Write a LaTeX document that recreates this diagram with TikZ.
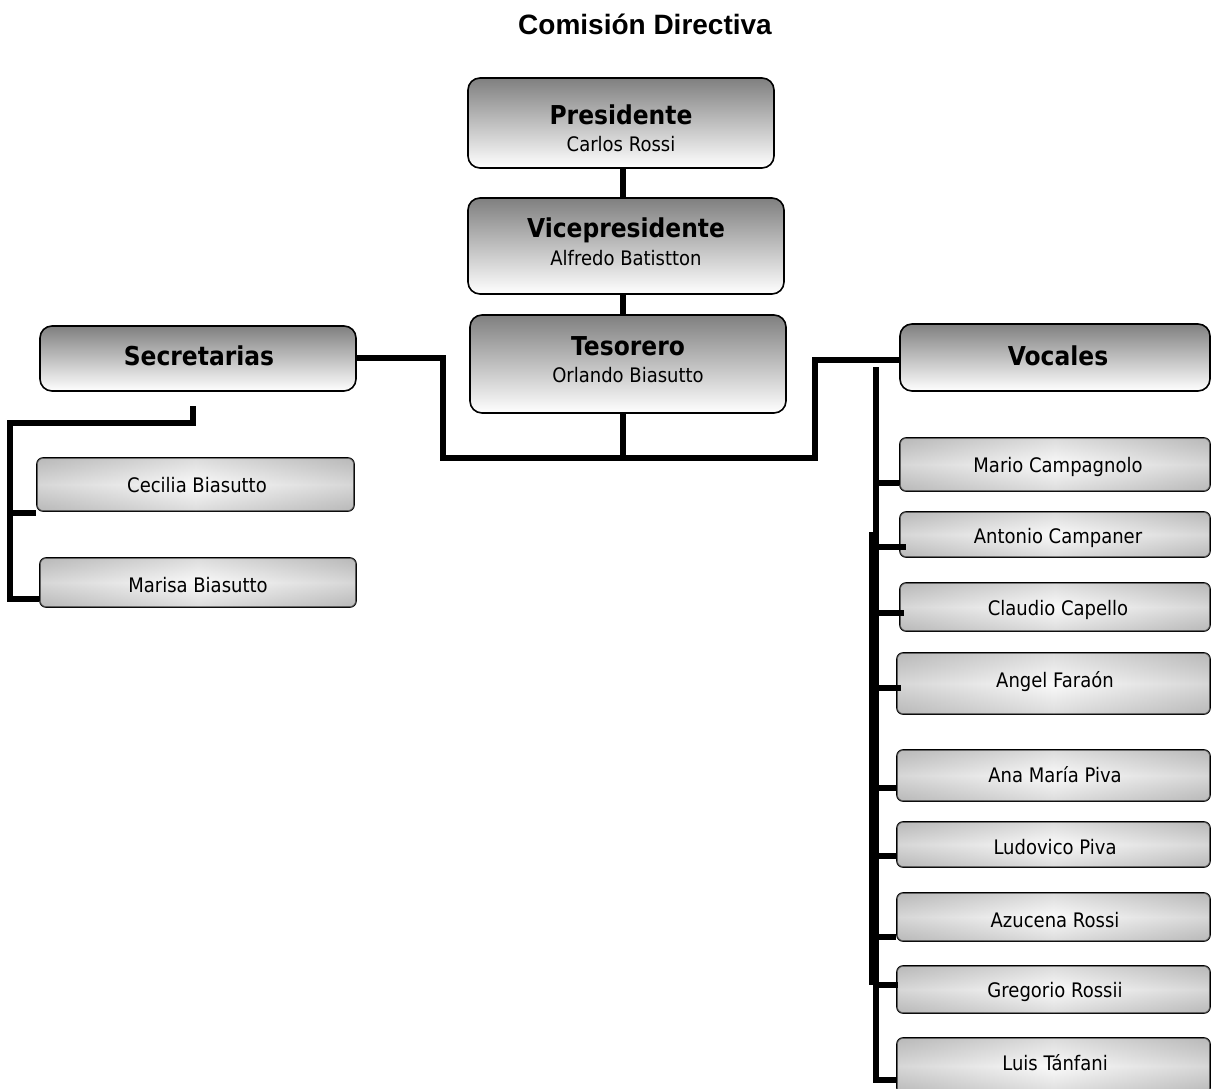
\documentclass[tikz,border=0pt]{standalone}
\usepackage{fontspec}
\setmainfont{DejaVu Sans}[FakeStretch=0.9]
\newfontfamily\titlefont{Liberation Sans}
\begin{document}
\begin{tikzpicture}[x=1pt,y=-1pt,
  topbox/.style={draw, line width=1.6pt, rounded corners=12pt, inner sep=0pt,
    top color=gray, bottom color=white},
  childbox/.style={draw, line width=1.6pt, rounded corners=6pt, inner sep=0pt,
    top color=gray!55, bottom color=gray!55, middle color=gray!8,
    postaction={left color=gray!55, right color=gray!55, middle color=white, fill opacity=0.5}},
  hd/.style={font=\fontsize{26}{30}\selectfont\bfseries, inner sep=0pt, anchor=base},
  nm/.style={font=\fontsize{20}{24}\selectfont, inner sep=0pt, anchor=base},
  conn/.style={line width=5.5pt, line join=miter}]
\useasboundingbox (0,0) rectangle (1211,1089);

% title
\node[font=\titlefont\fontsize{28}{32}\selectfont\bfseries, inner sep=0pt, anchor=base] (title) at (645,35) {Comisión Directiva};

% connectors (drawn first, under boxes)
\coordinate (sp) at (623,0);
\coordinate (j) at (623,458);
\coordinate (jl) at (443,358);
\coordinate (jr) at (815,360);
\coordinate (sa) at (193,406);
\coordinate (sb) at (10,423);
\coordinate (sc) at (10,599);
\coordinate (sd) at (10,513);
\coordinate (vt) at (876,367);
\coordinate (vb) at (876,1080);

% top boxes
\node[topbox, minimum width=306pt, minimum height=90pt] (pres) at (621,123) {};
\node[topbox, minimum width=316pt, minimum height=96pt] (vice) at (626,246) {};
\node[topbox, minimum width=316pt, minimum height=98pt] (tes) at (628,364) {};
\node[topbox, minimum width=316pt, minimum height=65pt] (sec) at (198,358.5) {};
\node[topbox, minimum width=310pt, minimum height=67pt] (voc) at (1055,357.5) {};

\draw[conn] (pres.south -| sp) -- (vice.north -| sp);
\draw[conn] (vice.south -| sp) -- (tes.north -| sp);
\draw[conn] (tes.south -| sp) -- (j);
\draw[conn] (j) -| (jl) -- (jl -| sec.east);
\draw[conn] (j) -| (jr) -- (jr -| voc.west);

\node[hd] (presH) at (621,125) {Presidente};
\node[nm] (presN) at (621,152) {Carlos Rossi};
\node[hd] (viceH) at (626,237) {Vicepresidente};
\node[nm] (viceN) at (626,265) {Alfredo Batistton};
\node[hd] (tesH) at (628,355) {Tesorero};
\node[nm] (tesN) at (628,382) {Orlando Biasutto};
\node[hd] (secH) at (199,365) {Secretarias};
\node[hd] (vocH) at (1058,365) {Vocales};

% secretarias children
\node[childbox, minimum width=317pt, minimum height=53pt] (cec) at (195.5,484.5) {};
\node[childbox, minimum width=316pt, minimum height=49pt] (mar) at (198,582.5) {};
\draw[conn] (sa) |- (sb) |- (mar.west |- sc);
\draw[conn] (sd) -- (sd -| cec.west);
\node[nm] (cecT) at (197,492) {Cecilia Biasutto};
\node[nm] (marT) at (198,592) {Marisa Biasutto};

% vocales children
\node[childbox, minimum width=310pt, minimum height=53pt] (mario) at (1055,464.5) {};
\node[childbox, minimum width=310pt, minimum height=45pt] (anton) at (1055,534.5) {};
\node[childbox, minimum width=310pt, minimum height=48pt] (clau) at (1055,607) {};
\node[childbox, minimum width=313pt, minimum height=61pt] (angel) at (1053.5,683.5) {};
\node[childbox, minimum width=313pt, minimum height=51pt] (ana) at (1053.5,775.5) {};
\node[childbox, minimum width=313pt, minimum height=45pt] (ludo) at (1053.5,844.5) {};
\node[childbox, minimum width=313pt, minimum height=48pt] (azu) at (1053.5,917) {};
\node[childbox, minimum width=313pt, minimum height=47pt] (greg) at (1053.5,989.5) {};
\node[childbox, minimum width=313pt, minimum height=56pt] (luis) at (1053.5,1066) {};

\draw[conn] (vt) -- (vb) -- (vb -| luis.west);
\draw[conn] (872,532) -- (872,985);
\foreach \n/\y/\d in {mario/483/0, anton/547/7, clau/613/5, angel/688/5, ana/788/0, ludo/856/0, azu/937/0, greg/985/2}
  \draw[conn] (vt |- 0,\y) -- ([xshift=\d pt]\n.west |- 0,\y);

\node[nm] (marioT) at (1058,472) {Mario Campagnolo};
\begin{scope}
  \clip (anton.south west) rectangle (anton.north east);
  \node[nm] (antonT) at (1058,543) {Antonio Campaner};
\end{scope}
\node[nm] (clauT) at (1058,615) {Claudio Capello};
\node[nm] (angelT) at (1055,687) {Angel Faraón};
\node[nm] (anaT) at (1055,782) {Ana María Piva};
\node[nm] (ludoT) at (1055,854) {Ludovico Piva};
\node[nm] (azuT) at (1055,927) {Azucena Rossi};
\node[nm] (gregT) at (1055,997) {Gregorio Rossii};
\node[nm] (luisT) at (1055,1070) {Luis Tánfani};
\end{tikzpicture}
\end{document}
